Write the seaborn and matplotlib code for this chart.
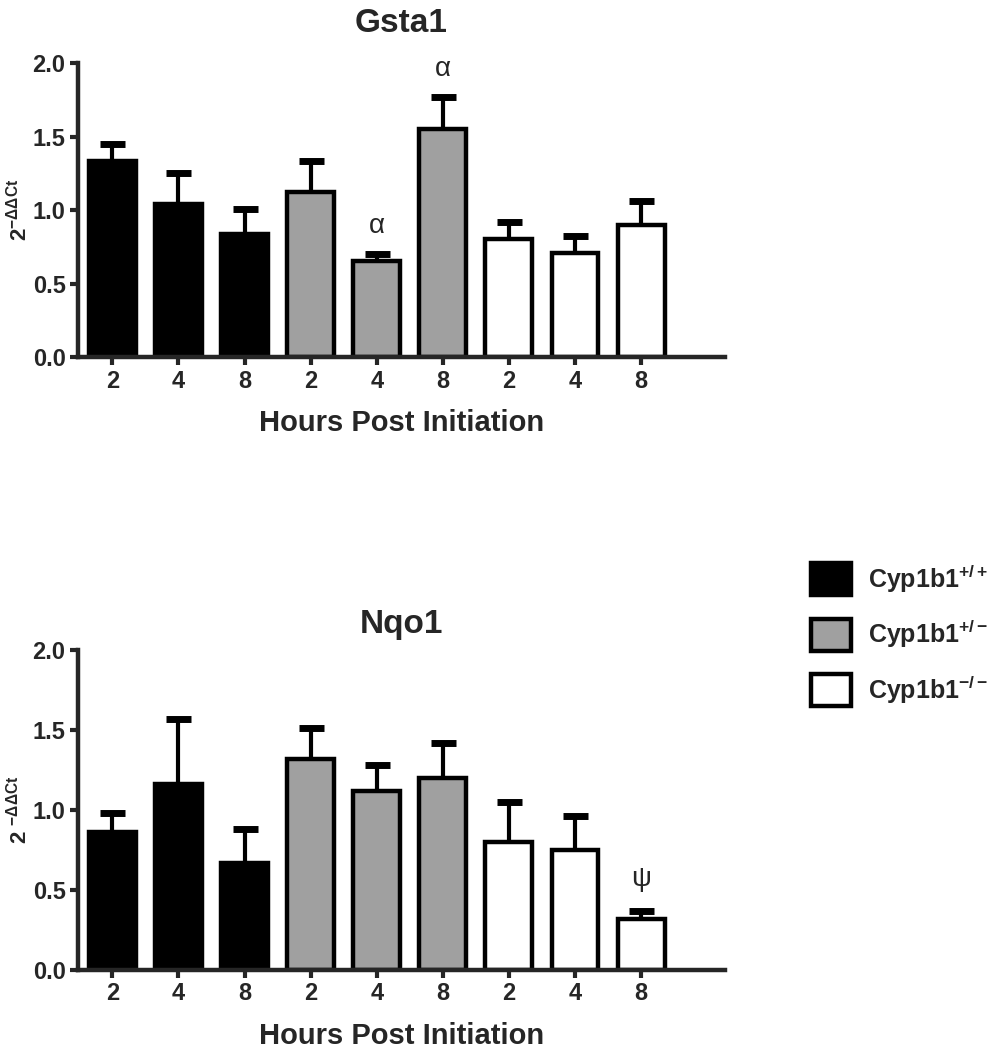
import matplotlib
matplotlib.use("Agg")
import matplotlib.pyplot as plt
import seaborn as sns
import pandas as pd
import numpy as np
from matplotlib.patches import Patch

# ---- data ----
hours = ["2", "4", "8", "2", "4", "8", "2", "4", "8"]
genotype = ["+/+"] * 3 + ["+/-"] * 3 + ["-/-"] * 3
gsta1_mean = [1.33, 1.04, 0.84, 1.12, 0.65, 1.55, 0.80, 0.71, 0.90]
gsta1_err = [0.12, 0.21, 0.17, 0.21, 0.05, 0.22, 0.12, 0.11, 0.16]
nqo1_mean = [0.86, 1.16, 0.67, 1.32, 1.12, 1.20, 0.80, 0.75, 0.32]
nqo1_err = [0.12, 0.41, 0.21, 0.19, 0.16, 0.22, 0.25, 0.21, 0.05]
group_colors = {"+/+": "#000000", "+/-": "#a0a0a0", "-/-": "#ffffff"}
legend_labels = [r"Cyp1b1$^{\mathbf{+/+}}$", r"Cyp1b1$^{\mathbf{+/-}}$", r"Cyp1b1$^{\mathbf{-/-}}$"]

sns.set_style("ticks")
plt.rcParams["font.family"] = ["Liberation Sans", "DejaVu Sans"]
plt.rcParams["font.weight"] = "bold"
plt.rcParams["mathtext.fontset"] = "custom"
plt.rcParams["mathtext.rm"] = "Liberation Sans"
plt.rcParams["mathtext.bf"] = "Liberation Sans:bold"
plt.rcParams["mathtext.it"] = "Liberation Sans:italic"

fig = plt.figure(figsize=(10.02, 10.5), dpi=100)
W, H = 1002, 1050
ax_top = fig.add_axes([78 / W, 1 - 357 / H, (725 - 78) / W, (357 - 63) / H])
ax_bot = fig.add_axes([78 / W, 1 - 970 / H, (725 - 78) / W, (970 - 650) / H])


def draw_panel(ax, means, errs, title, ylab, tpad):
    df = pd.DataFrame({"bar": [f"{g} {h}" for g, h in zip(genotype, hours)],
                       "val": means, "geno": genotype})
    sns.barplot(data=df, x="bar", y="val", hue="geno", palette=group_colors,
                dodge=False, width=0.71, edgecolor="black", linewidth=3.2,
                legend=False, ax=ax)
    xs = np.arange(len(means))
    # one-sided (upper) error bars, lower cap hidden
    eb = ax.errorbar(xs, means, yerr=[np.zeros(len(errs)), errs], fmt="none",
                     ecolor="black", elinewidth=3, capsize=9, capthick=5, zorder=1)
    eb[1][0].set_visible(False)
    ax.set_ylim(0, 2.0)
    ax.set_xlim(-0.52, 9.27)
    ax.set_yticks([0, 0.5, 1.0, 1.5, 2.0])
    ax.set_yticklabels(["0.0", "0.5", "1.0", "1.5", "2.0"])
    ax.set_xticks(xs)
    ax.set_xticklabels(hours)
    ax.tick_params(axis="both", labelsize=17, width=3, length=6, pad=3)
    for lab in ax.get_xticklabels() + ax.get_yticklabels():
        lab.set_fontweight("bold")
    sns.despine(ax=ax)
    ax.spines["left"].set_linewidth(3.2)
    ax.spines["bottom"].set_linewidth(3.2)
    ax.set_xlabel("Hours Post Initiation", fontsize=21, fontweight="bold", labelpad=12)
    ax.set_ylabel(ylab, fontsize=16, fontweight="bold")
    ax.yaxis.set_label_coords(-0.072, 0.5)
    ax.set_title(title, fontsize=24, fontweight="bold", pad=tpad)


draw_panel(ax_top, gsta1_mean, gsta1_err, "Gsta1", r"2$^{\mathbf{-\Delta\Delta Ct}}$", 22)
draw_panel(ax_bot, nqo1_mean, nqo1_err, "Nqo1", r"2 $^{\mathbf{-\Delta\Delta Ct}}$", 12)

# significance marks
ax_top.text(4, 0.89, "α", ha="center", va="center", fontsize=20, fontweight="normal")
ax_top.text(5, 1.96, "α", ha="center", va="center", fontsize=20, fontweight="normal")
ax_bot.text(8, 0.57, "ψ", ha="center", va="center", fontsize=20, fontweight="normal")

handles = [Patch(facecolor=c, edgecolor="black", linewidth=3.2) for c in group_colors.values()]
leg = fig.legend(handles, legend_labels, loc="upper left", bbox_to_anchor=(788 / W, 1 - 540 / H),
                 frameon=False, prop={"weight": "bold", "size": 18},
                 handlelength=1.6, handleheight=1.6, handletextpad=0.7, labelspacing=0.9)

fig.savefig("out.png", dpi=100)
